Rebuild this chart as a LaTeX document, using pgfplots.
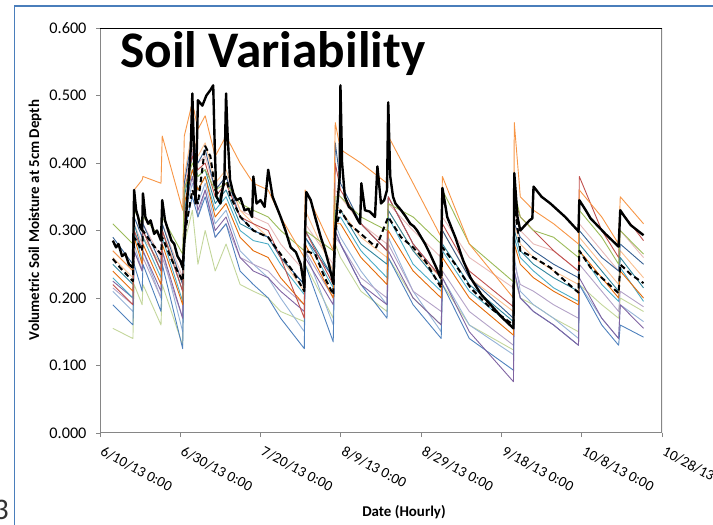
\documentclass[border=0pt]{standalone}
\usepackage{pgfplots}
\pgfplotsset{compat=1.18}
\usepackage{pgfplotstable}
\usepackage{fontspec}
\setmainfont{Carlito}

\definecolor{cOR}{HTML}{F79646}
\definecolor{cGR}{HTML}{9BBB59}
\definecolor{cRD}{HTML}{C0504D}
\definecolor{cBL}{HTML}{4F81BD}
\definecolor{cPU}{HTML}{8064A2}
\definecolor{cLG}{HTML}{C3D69B}
\definecolor{cLB}{HTML}{95B3D7}
\definecolor{cAQ}{HTML}{4BACC6}
\definecolor{cPK}{HTML}{E6B9B8}
\definecolor{cDO}{HTML}{E46C0A}
\definecolor{cDB}{HTML}{376092}
\definecolor{cLP}{HTML}{B3A2C7}
\definecolor{cTE}{HTML}{31859C}
\definecolor{cLO}{HTML}{FAC090}
\definecolor{frameblue}{HTML}{4A7EBB}
\definecolor{axgray}{HTML}{868686}

% Volumetric soil moisture (5 cm) at the individual probes; t = days since 6/10/13 0:00
\pgfplotstableread{
t     OR    GR    RD    BL    PU    LG    LB    AQ    PK    DO    DB    LP    TE    LO
3.2   0.270 0.310 0.220 0.190 0.225 0.155 0.210 0.230 0.270 0.240 0.290 0.215 0.250 0.260
8.2   0.240 0.280 0.190 0.160 0.200 0.140 0.180 0.200 0.240 0.210 0.250 0.190 0.220 0.230
8.5   0.360 0.330 0.300 0.250 0.270 0.220 0.280 0.300 0.310 0.290 0.320 0.270 0.310 0.300
10.5  0.375 0.310 0.270 0.210 0.240 0.190 0.240 0.255 0.280 0.250 0.290 0.240 0.270 0.270
10.7  0.380 0.320 0.300 0.250 0.270 0.220 0.270 0.290 0.310 0.280 0.310 0.260 0.300 0.290
15.2  0.370 0.290 0.240 0.180 0.210 0.160 0.200 0.230 0.260 0.220 0.250 0.200 0.240 0.250
15.5  0.440 0.320 0.300 0.250 0.270 0.220 0.270 0.290 0.310 0.280 0.310 0.260 0.300 0.300
20.6  0.330 0.265 0.210 0.125 0.170 0.130 0.150 0.195 0.230 0.190 0.220 0.170 0.210 0.220
21.0  0.440 0.360 0.360 0.300 0.330 0.280 0.320 0.330 0.370 0.340 0.370 0.320 0.350 0.380
23.0  0.490 0.400 0.410 0.350 0.380 0.330 0.370 0.390 0.420 0.390 0.440 0.420 0.410 0.450
24.4  0.450 0.380 0.390 0.320 0.330 0.250 0.340 0.360 0.400 0.360 0.400 0.320 0.380 0.410
26.2  0.470 0.390 0.400 0.350 0.360 0.300 0.370 0.380 0.410 0.380 0.420 0.360 0.390 0.430
28.7  0.410 0.360 0.350 0.290 0.300 0.240 0.310 0.330 0.360 0.320 0.360 0.290 0.340 0.370
31.4  0.440 0.370 0.370 0.310 0.320 0.280 0.330 0.350 0.380 0.340 0.380 0.310 0.360 0.390
34.9  0.400 0.340 0.320 0.240 0.260 0.220 0.270 0.300 0.330 0.290 0.320 0.260 0.310 0.330
38.2  0.370 0.330 0.310 0.220 0.240 0.210 0.250 0.285 0.320 0.270 0.300 0.250 0.300 0.310
41.9  0.360 0.320 0.300 0.200 0.230 0.200 0.230 0.280 0.310 0.260 0.290 0.240 0.290 0.290
45.0  0.320 0.300 0.260 0.170 0.210 0.180 0.200 0.250 0.280 0.230 0.260 0.220 0.260 0.260
50.9  0.260 0.270 0.170 0.125 0.180 0.165 0.150 0.205 0.240 0.190 0.220 0.190 0.220 0.210
51.1  0.360 0.300 0.300 0.250 0.260 0.250 0.270 0.290 0.310 0.280 0.290 0.270 0.300 0.330
58.1  0.270 0.270 0.220 0.135 0.190 0.170 0.160 0.215 0.250 0.200 0.230 0.200 0.230 0.240
58.6  0.460 0.350 0.400 0.300 0.300 0.280 0.310 0.310 0.360 0.310 0.430 0.290 0.330 0.340
59.9  0.420 0.350 0.360 0.280 0.280 0.260 0.290 0.320 0.350 0.310 0.370 0.280 0.330 0.330
65.0  0.400 0.320 0.310 0.220 0.220 0.210 0.240 0.270 0.310 0.260 0.310 0.230 0.280 0.290
71.5  0.370 0.300 0.270 0.170 0.190 0.180 0.190 0.230 0.280 0.220 0.270 0.200 0.250 0.260
71.8  0.440 0.340 0.350 0.260 0.270 0.260 0.290 0.320 0.340 0.300 0.350 0.280 0.330 0.330
78.0  0.370 0.320 0.280 0.190 0.200 0.200 0.210 0.250 0.300 0.240 0.280 0.210 0.270 0.270
85.0  0.290 0.280 0.230 0.140 0.160 0.160 0.150 0.210 0.260 0.200 0.230 0.180 0.220 0.230
85.3  0.380 0.360 0.310 0.220 0.230 0.220 0.230 0.270 0.320 0.260 0.300 0.240 0.280 0.300
92.0  0.280 0.280 0.240 0.140 0.150 0.160 0.160 0.210 0.260 0.200 0.230 0.180 0.220 0.230
103.0 0.200 0.224 0.187 0.093 0.076 0.123 0.116 0.157 0.215 0.145 0.170 0.130 0.165 0.180
103.2 0.460 0.360 0.350 0.240 0.240 0.230 0.260 0.290 0.330 0.280 0.310 0.250 0.300 0.310
104.7 0.350 0.320 0.320 0.200 0.200 0.200 0.210 0.260 0.300 0.250 0.290 0.220 0.270 0.280
108.0 0.330 0.300 0.300 0.180 0.180 0.190 0.190 0.240 0.280 0.230 0.270 0.210 0.250 0.260
113.0 0.310 0.290 0.270 0.160 0.160 0.170 0.170 0.215 0.270 0.210 0.250 0.190 0.230 0.240
119.2 0.280 0.260 0.240 0.130 0.130 0.150 0.140 0.195 0.240 0.190 0.230 0.170 0.210 0.220
119.4 0.360 0.330 0.380 0.220 0.230 0.220 0.220 0.270 0.310 0.270 0.300 0.250 0.280 0.290
125.0 0.320 0.290 0.300 0.160 0.170 0.190 0.170 0.220 0.270 0.230 0.260 0.210 0.240 0.250
129.2 0.280 0.250 0.260 0.130 0.140 0.170 0.140 0.195 0.240 0.200 0.240 0.180 0.210 0.220
129.6 0.350 0.300 0.330 0.160 0.190 0.200 0.190 0.245 0.300 0.240 0.280 0.210 0.260 0.270
135.4 0.310 0.265 0.285 0.142 0.155 0.180 0.165 0.195 0.260 0.200 0.250 0.187 0.215 0.230
}\probes

% site average (solid black)
\pgfplotstableread{
t v
3.2 0.285
4.0 0.275
4.6 0.280
5.5 0.262
6.3 0.266
7.2 0.250
8.2 0.245
8.5 0.360
9.0 0.330
9.5 0.320
10.0 0.305
10.5 0.300
10.7 0.355
11.3 0.320
12.0 0.310
12.6 0.315
13.5 0.295
14.2 0.300
15.2 0.285
15.5 0.345
16.2 0.315
17.0 0.300
17.8 0.285
18.5 0.280
19.3 0.262
20.0 0.255
20.6 0.245
21.2 0.300
22.6 0.420
23.0 0.503
23.5 0.400
23.8 0.340
24.4 0.493
25.5 0.485
26.5 0.500
27.5 0.508
28.2 0.515
28.6 0.420
29.0 0.350
30.0 0.340
31.0 0.380
31.4 0.503
31.8 0.440
32.4 0.375
33.2 0.355
34.0 0.345
35.0 0.348
36.0 0.330
37.0 0.332
37.9 0.320
38.2 0.380
39.0 0.340
40.0 0.345
41.0 0.335
41.9 0.390
43.0 0.350
44.0 0.335
45.0 0.320
46.2 0.300
47.5 0.275
48.8 0.268
50.0 0.250
50.9 0.215
51.1 0.300
51.4 0.357
52.5 0.345
53.5 0.322
55.0 0.290
56.0 0.272
57.0 0.250
58.1 0.222
58.6 0.300
59.7 0.380
59.9 0.515
60.3 0.400
61.0 0.350
62.0 0.335
63.0 0.330
64.0 0.318
64.8 0.310
65.1 0.370
66.0 0.330
67.2 0.328
68.5 0.320
69.1 0.395
70.0 0.340
70.8 0.345
71.5 0.360
71.8 0.490
72.3 0.380
73.0 0.350
73.6 0.340
74.3 0.335
75.0 0.330
76.0 0.322
77.3 0.310
78.2 0.306
79.0 0.300
80.0 0.290
81.0 0.280
82.0 0.268
83.0 0.255
84.0 0.242
84.8 0.230
85.3 0.363
86.5 0.320
88.5 0.290
90.5 0.255
92.3 0.230
95.0 0.205
97.3 0.190
100.0 0.172
103.0 0.155
103.2 0.385
104.0 0.320
104.7 0.300
107.0 0.315
107.7 0.318
108.0 0.365
110.0 0.350
112.2 0.340
115.9 0.320
119.0 0.300
119.2 0.298
119.4 0.345
121.0 0.330
122.2 0.318
125.9 0.295
129.2 0.276
129.6 0.330
130.5 0.322
132.2 0.308
135.4 0.293
}\sitemean

% reference probe (dashed black)
\pgfplotstableread{
t v
3.2 0.258
5.0 0.245
8.2 0.225
8.5 0.290
10.5 0.270
10.7 0.300
13.0 0.280
15.2 0.265
15.5 0.290
18.0 0.255
20.6 0.225
21.0 0.290
23.0 0.360
24.4 0.340
26.2 0.425
27.5 0.410
28.7 0.360
30.0 0.350
31.4 0.380
32.5 0.350
35.0 0.320
38.2 0.300
41.9 0.290
45.0 0.265
48.0 0.240
50.9 0.210
51.1 0.270
53.6 0.265
56.0 0.230
58.1 0.205
58.6 0.300
59.9 0.330
62.0 0.310
65.0 0.295
68.8 0.275
71.8 0.320
75.0 0.290
78.0 0.275
81.0 0.255
85.0 0.215
85.3 0.275
88.5 0.250
92.3 0.215
97.3 0.185
103.0 0.160
103.2 0.345
104.7 0.270
108.0 0.260
112.2 0.245
115.9 0.225
119.2 0.208
119.4 0.270
122.2 0.245
125.9 0.225
129.2 0.207
129.6 0.250
132.2 0.235
135.4 0.222
}\refprobe

\begin{document}
\begin{tikzpicture}
\useasboundingbox (0,0) rectangle (713bp,525bp);
% page frame
\draw[frameblue, line width=1.5bp] (14.5bp,0) -- (14.5bp,519bp) -- (713bp,519bp);
\begin{scope}
  \clip (0,0) rectangle (12bp,525bp);
  \node[anchor=base east, inner sep=0pt, text=black!80, font=\fontsize{30}{30}\selectfont] at (9bp,6bp) {3};
\end{scope}

\begin{axis}[
  at={(100bp,92bp)}, anchor=south west,
  width=562bp, height=405bp, scale only axis,
  xmin=0, xmax=140, ymin=0, ymax=0.6,
  axis line style={draw=none},
  xtick={0,20,40,60,80,100,120,140},
  xticklabels={6/10/13 0:00,6/30/13 0:00,7/20/13 0:00,8/9/13 0:00,8/29/13 0:00,9/18/13 0:00,10/8/13 0:00,10/28/13 0:00},
  ytick={0,0.1,0.2,0.3,0.4,0.5,0.6},
  yticklabels={0.000,0.100,0.200,0.300,0.400,0.500,0.600},
  xtick pos=left, ytick pos=left,
  tick align=outside, major tick length=4bp,
  tick style={axgray, line width=1bp},
  yticklabel style={font=\fontsize{16.3}{18}\selectfont, anchor=east, xshift=-6bp},
  xticklabel style={font=\fontsize{14.8}{17}\selectfont, xshift=3bp, yshift=-4bp, rotate=-28, anchor=north west},
  every axis plot/.append style={no markers, line width=0.9bp, line join=round},
]
\addplot[cLG] table[x=t,y=LG]{\probes};
\addplot[cLB] table[x=t,y=LB]{\probes};
\addplot[cLP] table[x=t,y=LP]{\probes};
\addplot[cPK] table[x=t,y=PK]{\probes};
\addplot[cLO] table[x=t,y=LO]{\probes};
\addplot[cBL] table[x=t,y=BL]{\probes};
\addplot[cPU] table[x=t,y=PU]{\probes};
\addplot[cAQ] table[x=t,y=AQ]{\probes};
\addplot[cTE] table[x=t,y=TE]{\probes};
\addplot[cDO] table[x=t,y=DO]{\probes};
\addplot[cDB] table[x=t,y=DB]{\probes};
\addplot[cRD] table[x=t,y=RD]{\probes};
\addplot[cGR] table[x=t,y=GR]{\probes};
\addplot[cOR] table[x=t,y=OR]{\probes};
\addplot[black, line width=2bp, dash pattern=on 5.5bp off 3.5bp] table[x=t,y=v]{\refprobe};
\addplot[black, line width=2.4bp] table[x=t,y=v]{\sitemean};
% plot-area border
\draw[axgray, line width=1.5bp] (rel axis cs:0,1) -- (rel axis cs:0,0) -- (rel axis cs:1,0) -- (rel axis cs:1,1);
\draw[black, line width=0.8bp] (rel axis cs:0,1) -- (rel axis cs:1,1);
\end{axis}

\node[anchor=base west, inner sep=0pt, font=\bfseries\fontsize{51.5}{56}\selectfont] at (120bp,457bp) {Soil Variability};
\node[rotate=90, font=\bfseries\fontsize{15}{17}\selectfont] at (35bp,305bp) {Volumetric Soil Moisture at 5cm Depth};
\node[font=\bfseries\fontsize{15}{17}\selectfont] at (404bp,13bp) {Date (Hourly)};
\end{tikzpicture}
\end{document}
